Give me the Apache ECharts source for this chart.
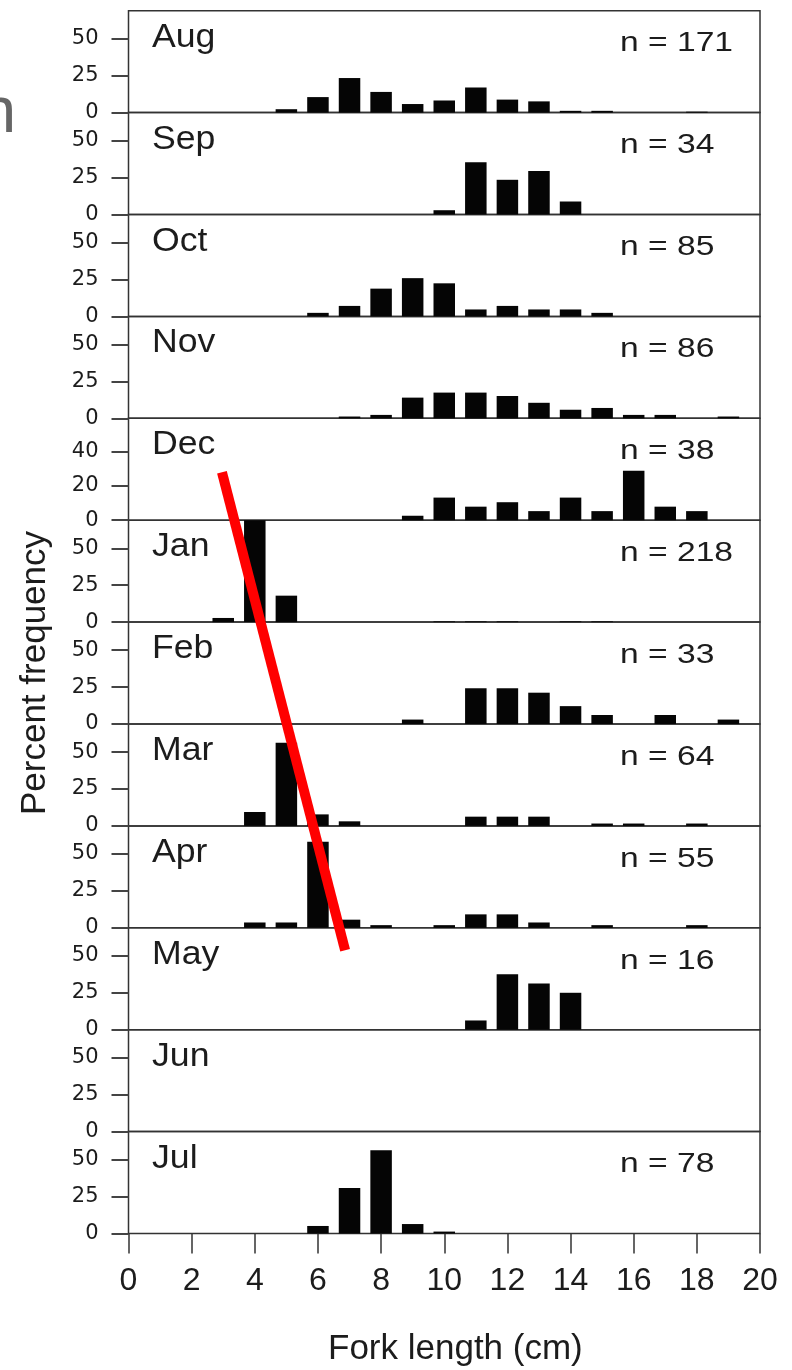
<!DOCTYPE html>
<html>
<head>
<meta charset="utf-8">
<script src="https://cdn.jsdelivr.net/npm/echarts@6/dist/echarts.min.js"></script>
<style>
html,body{margin:0;padding:0;background:#fff;}
#c{width:792px;height:1370px;}
</style>
</head>
<body>
<div id="c"></div>
<script>
// ---------- data ----------
const months = ['Aug','Sep','Oct','Nov','Dec','Jan','Feb','Mar','Apr','May','Jun','Jul'];
const sampleSizes = ['n = 171','n = 34','n = 85','n = 86','n = 38','n = 218','n = 33','n = 64','n = 55','n = 16','','n = 78'];
const lengthBins = [1,2,3,4,5,6,7,8,9,10,11,12,13,14,15,16,17,18,19];
const xTicks = [0,2,4,6,8,10,12,14,16,18,20];
const yTicksStd = [0,25,50];
const yTicksDec = [0,20,40];
//                 1  2  3    4     5     6     7     8     9    10    11    12    13    14   15   16    17   18   19
const aug = [0, 0, 0,   0,   2.3, 10.5, 23.4, 14.0,  5.8,  8.2, 17.0,  8.8,  7.6,  1.2, 1.2, 0,    0,   0.6, 0];
const sep = [0, 0, 0,   0,   0,    0,    0,    0,    0,    2.9, 35.3, 23.5, 29.4,  8.8, 0,   0,    0,   0,   0];
const oct = [0, 0, 0,   0,   0,    2.4,  7.1, 18.8, 25.9, 22.4,  4.7,  7.1,  4.7,  4.7, 2.4, 0,    0,   0,   0];
const nov = [0, 0, 0,   0,   0,    0,    1.2,  2.3, 14.0, 17.4, 17.4, 15.1, 10.5,  5.8, 7.0, 2.3,  2.3, 0,   1.2];
const dec = [0, 0, 0,   0,   0,    0,    0,    0,    2.6, 13.2,  7.9, 10.5,  5.3, 13.2, 5.3, 28.9, 7.9, 5.3, 0];
const jan = [0, 0, 2.8, 77.1,17.9, 0,    0,    0,    0,    0.5,  0.5,  0.5,  0,    0.5, 0.5, 0,    0,   0,   0];
const feb = [0, 0, 0,   0,   0,    0,    0,    0,    3.0,  0,   24.2, 24.2, 21.2, 12.1, 6.1, 0,    6.1, 0,   3.0];
const mar = [0, 0, 0,   9.4, 56.3, 7.8,  3.1,  0,    0,    0,    6.25, 6.25, 6.25, 0,   1.6, 1.6,  0,   1.6, 0];
const apr = [0, 0, 0,   3.6, 3.6, 58.2,  5.5,  1.8,  0,    1.8,  9.1,  9.1,  3.6,  0,   1.8, 0,    0,   1.8, 0];
const may = [0, 0, 0,   0,   0,    0,    0,    0,    0,    0,    6.25,37.5, 31.25,25.0, 0,   0,    0,   0,   0];
const jun = [0, 0, 0,   0,   0,    0,    0,    0,    0,    0,    0,    0,    0,    0,   0,   0,    0,   0,   0];
const jul = [0, 0, 0,   0,   0,    5.1, 30.8, 56.4,  6.4,  1.3,  0,    0,    0,    0,   0,   0,    0,   0,   0];
const monthValues = [aug, sep, oct, nov, dec, jan, feb, mar, apr, may, jun, jul];
// red trend line annotation: [fork length, panel-units from bottom]
const trendLine = [[2.96, 7.47], [6.86, 2.78]];

// ---------- layout ----------
const LEFT = 128.5, RIGHT = 32, TOP = 10.7, PANEL_H = 101.9;
const FONT = '"Liberation Sans", Arial, sans-serif';
const INK = '#1c1c1c';

const grids = [], xAxes = [], yAxes = [], series = [], graphics = [];

months.forEach((m, i) => {
  const top = TOP + i * PANEL_H;
  const last = i === months.length - 1;
  const isDec = m === 'Dec';
  const ticks = isDec ? yTicksDec : yTicksStd;
  grids.push({ left: LEFT, right: RIGHT, top: top, height: PANEL_H, show: true,
    borderColor: '#333', borderWidth: 1.5, backgroundColor: 'transparent' });
  xAxes.push({
    type: 'value', gridIndex: i, min: 0, max: 20, interval: 2,
    axisLine: { show: false },
    axisTick: { show: last, length: 20, lineStyle: { color: '#333', width: 1.5 } },
    axisLabel: { show: last, customValues: xTicks, fontSize: 32, fontFamily: FONT, color: INK, margin: 32 },
    splitLine: { show: false }
  });
  yAxes.push({
    type: 'value', gridIndex: i, min: 0, max: isDec ? 59.5 : 69,
    axisLine: { show: false },
    axisTick: { show: true, customValues: ticks, length: 17, lineStyle: { color: '#444', width: 2 } },
    axisLabel: { customValues: ticks, fontSize: 21, fontFamily: '"DejaVu Sans", sans-serif', color: INK, margin: 30 },
    splitLine: { show: false }
  });
  series.push({
    type: 'bar', xAxisIndex: i, yAxisIndex: i,
    data: lengthBins.map((x, k) => [x, monthValues[i][k]]),
    barWidth: 21.5, itemStyle: { color: '#050505' }, clip: true, silent: true
  });
  graphics.push({
    type: 'text', x: 152, y: top + 27, scaleX: 1.08, z: 10,
    style: { text: m, font: '33px ' + FONT, fill: INK, align: 'left', verticalAlign: 'middle',
      textAlign: 'left', textVerticalAlign: 'middle' }
  });
  if (sampleSizes[i]) {
    graphics.push({
      type: 'text', x: 620, y: top + 33, scaleX: 1.2, z: 10,
      style: { text: sampleSizes[i], font: '28px ' + FONT, fill: INK, align: 'left', verticalAlign: 'middle',
        textAlign: 'left', textVerticalAlign: 'middle' }
    });
  }
});

// overlay grid for the red annotation line
const ov = months.length;
grids.push({ left: LEFT, right: RIGHT, top: TOP, height: PANEL_H * months.length, show: false });
xAxes.push({ type: 'value', gridIndex: ov, min: 0, max: 20, show: false });
yAxes.push({ type: 'value', gridIndex: ov, min: 0, max: months.length, show: false });
series.push({
  type: 'line', xAxisIndex: ov, yAxisIndex: ov, data: trendLine, symbol: 'none', silent: true,
  lineStyle: { color: '#ff0000', width: 10, cap: 'butt' }, z: 20
});

// axis titles and stray glyph
graphics.push({
  type: 'text', x: 328, y: 1349, z: 10,
  style: { text: 'Fork length (cm)', font: '35px ' + FONT, fill: INK, align: 'left', verticalAlign: 'middle',
    textAlign: 'left', textVerticalAlign: 'middle' }
});
graphics.push({
  type: 'text', x: 35, y: 673, rotation: Math.PI / 2, z: 10,
  style: { text: 'Percent frequency', font: '35px ' + FONT, fill: INK, align: 'center', verticalAlign: 'middle',
    textAlign: 'center', textVerticalAlign: 'middle' }
});
graphics.push({
  type: 'text', x: -20, y: 114, z: 10,
  style: { text: 'n', font: '65px ' + FONT, fill: '#666666', align: 'left', verticalAlign: 'middle',
    textAlign: 'left', textVerticalAlign: 'middle' }
});

const chart = echarts.init(document.getElementById('c'), null, { renderer: 'canvas', width: 792, height: 1370 });
chart.setOption({
  animation: false,
  backgroundColor: '#ffffff',
  grid: grids, xAxis: xAxes, yAxis: yAxes, series: series,
  graphic: { elements: graphics }
});
</script>
</body>
</html>
